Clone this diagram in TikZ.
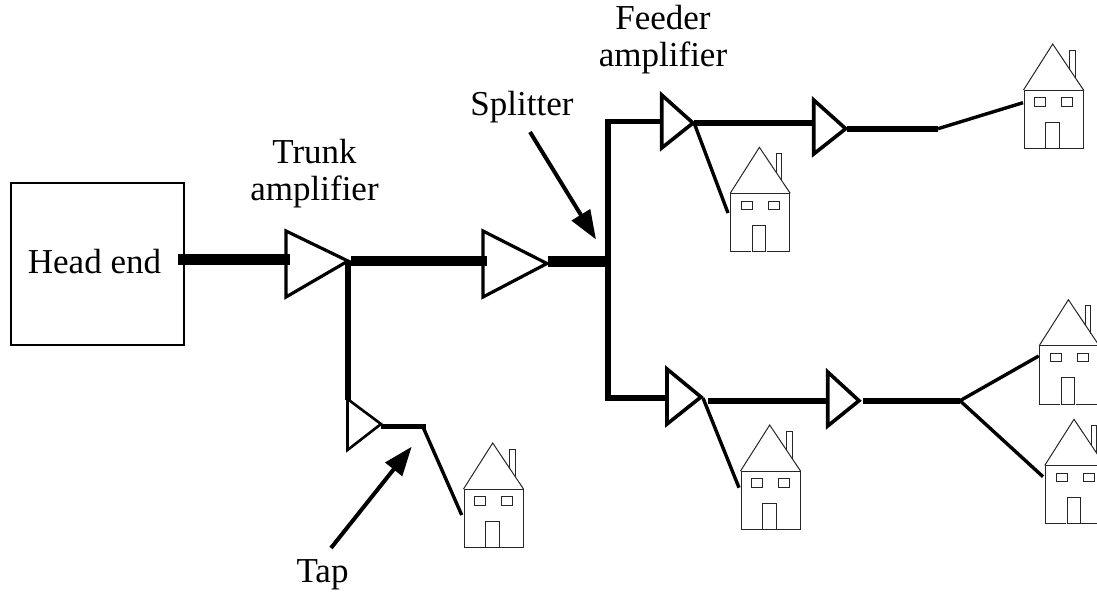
\documentclass[tikz,border=0pt]{standalone}
\usepackage{fontspec}
\setmainfont{Liberation Serif}
\usetikzlibrary{arrows.meta}
\tikzset{
  housepic/.pic={
    \draw[houseline] (0,0) -- (59,0);
    \draw[houseline] (0,0) -- (0,58.5) -- (20.7,58.5);
    \draw[houseline] (36,58.5) -- (59,58.5) -- (59,0);
    \draw[houseline] (21.7,58.5) -- (21.7,32) -- (35,32) -- (35,58.5) -- cycle;
    \draw[houseline] (-0.5,0) -- (28.7,-46) -- (59.5,0);
    \draw[houseline] (45.7,-20) -- (45.7,-40) -- (51,-40) -- (51,-12);
    \draw[houseline] (10.7,7.7) rectangle (21.7,16);
    \draw[houseline] (37.7,7.7) rectangle (48.7,16);
  },
  houseline/.style={line width=1pt,black!85},
  amp/.style={draw=black,line width=3.2pt,line join=miter},
  ampsmall/.style={draw=black,line width=3.6pt,line join=miter},
  ampthin/.style={draw=black,line width=2.6pt,line join=miter},
  heavy/.style={line width=10.7pt,draw=black},
  trunk/.style={line width=5.8pt,draw=black},
  drop/.style={line width=3.4pt,draw=black},
  label/.style={font=\fontsize{35}{37.5}\selectfont,align=center,inner sep=0pt,anchor=base},
  pointer/.style={line width=4pt,draw=black,-{Triangle[length=29pt,width=21pt]}},
  headbox/.style={draw=black,line width=2pt,minimum width=173pt,minimum height=162pt,inner sep=0pt},
}
\begin{document}
\begin{tikzpicture}[x=1pt,y=-1pt]
\useasboundingbox (0,0) rectangle (1097,592);
% head end
\node[headbox] (head) at (97.5,264) {};
% labels
\node[label] (lhead) at (94.5,273) {Head end};
\node[label] (ltrunk) at (314.5,200.7) {Trunk\\amplifier};
\node[label] (lsplit) at (522,115) {Splitter};
\node[label] (lfeed) at (663,66.7) {Feeder\\amplifier};
\node[label] (ltap) at (322.5,582.7) {Tap};
% junction coordinates
\coordinate (h0) at (178,259.3);
\coordinate (a1in) at (290,259.3);
\coordinate (a1out) at (349,261);
\coordinate (a2in) at (487,261);
\coordinate (a2out) at (548,261.5);
\coordinate (sp) at (607,261.5);
\coordinate (sptop) at (607.6,121.5);
\coordinate (spbot) at (607.6,398);
\coordinate (a3top) at (348,400);
\coordinate (a3out) at (381,426.7);
\coordinate (tapj) at (426,426.7);
\coordinate (tapd) at (423,427);
\coordinate (tapend) at (461.7,515);
\coordinate (a4in) at (662,121.5);
\coordinate (a4out) at (694,122.7);
\coordinate (a5in) at (814,122.7);
\coordinate (a5out) at (846.7,128.7);
\coordinate (j5) at (938,128.7);
\coordinate (h2in) at (1023,102.7);
\coordinate (h1in) at (728,213);
\coordinate (a6in) at (667,398);
\coordinate (a6tip) at (703,398);
\coordinate (a6out) at (708,400.7);
\coordinate (a7in) at (828,400.7);
\coordinate (a7out) at (863,400.7);
\coordinate (j7) at (960,400.7);
\coordinate (h3in) at (739,487.7);
\coordinate (h4in) at (1038.7,356);
\coordinate (h5in) at (1043,476.7);
% amplifiers
\draw[amp] (286,231) -- (286,297) -- (348,261) -- cycle;
\draw[amp] (483,231) -- (483,297) -- (547,263.5) -- cycle;
\draw[ampthin] (347.5,399) -- (347.5,450) -- (381,424) -- cycle;
\draw[ampsmall] (661.7,95) -- (661.7,148) -- (693,123) -- cycle;
\draw[ampsmall] (813.7,100) -- (813.7,154) -- (845.7,128.7) -- cycle;
\draw[ampsmall] (667,369) -- (667,424) -- (701,397) -- cycle;
\draw[ampsmall] (827.7,372) -- (827.7,426) -- (859,400.7) -- cycle;
% cables
\draw[heavy] (h0) -- (a1in);
\draw[heavy] (a1out) ++(2,0) -- (a2in);
\draw[heavy] (a2out) -- (sp);
\draw[trunk] (a1out) ++(-1,0) -- (a3top);
\draw[trunk,line join=miter] (a4in) -- (sptop) -- (spbot) -- (a6in);
\draw[line width=5pt,draw=black] (a3out) -- (tapj);
\draw[drop] (tapd) -- (tapend);
\draw[trunk] (a4out) -- (a5in);
\draw[trunk] (a5out) -- (j5);
\draw[drop] (a4out) -- (h1in);
\draw[drop] (j5) -- (h2in);
\draw[trunk] (a6out) -- (a7in);
\draw[trunk] (a7out) -- (j7);
\draw[drop] (a6tip) -- (h3in);
\draw[drop] (j7) -- (h4in);
\draw[drop] (j7) -- (h5in);
% pointers
\coordinate (sptail) at (530,132);
\coordinate (sptip) at (596,239.5);
\coordinate (taptail) at (331,548);
\coordinate (taptip) at (411.7,446.7);
\draw[pointer] (sptail) -- (sptip);
\draw[pointer] (taptail) -- (taptip);
% houses
\pic at (730.7,193.3) {housepic};
\pic at (1024,90) {housepic};
\pic at (741,471) {housepic};
\pic at (1039.7,345.7) {housepic};
\pic at (1045.3,465.3) {housepic};
\pic at (464,489) {housepic};
\end{tikzpicture}
\end{document}
